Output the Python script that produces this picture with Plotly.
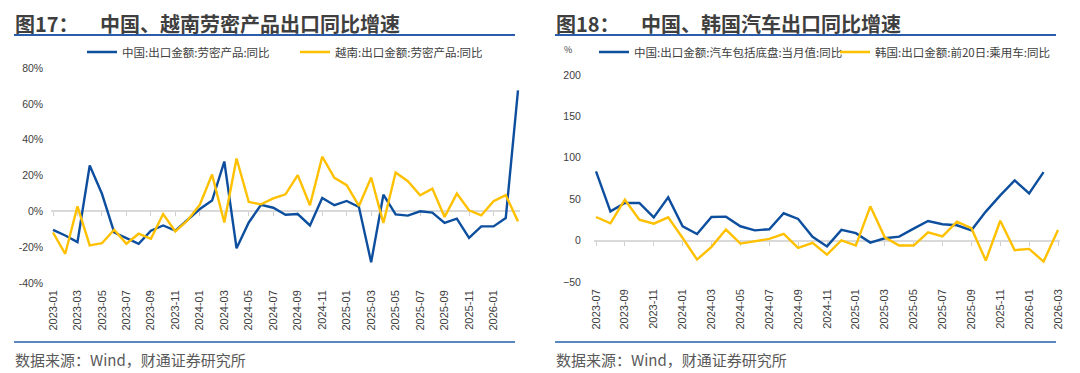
import plotly.graph_objects as go

# page body has an 8px margin, so the figure is sized to fit the window
OFF = 8
W, H = 1080 - OFF, 373 - OFF

# ---------------- data ----------------
months_a = [f"{y}-{m:02d}" for y in (2023, 2024, 2025) for m in range(1, 13)] + ["2026-01", "2026-02", "2026-03"]
china_labor = [-10.3, -13.5, -17.2, 25.6, 9.8, -11.8, -15.0, -18.1, -10.8, -7.9, -10.8, -4.7,
               1.3, 6.0, 27.8, -20.6, -6.2, 3.6, 2.0, -1.9, -1.5, -7.9, 7.5, 3.4,
               5.8, 2.4, -28.4, 9.3, -1.7, -2.4, 0.0, -0.7, -6.5, -4.1, -14.8, -8.4,
               -8.4, -3.7, 67.5]
vietnam_labor = [-11.8, -23.7, 2.8, -19.0, -17.8, -10.3, -18.1, -12.5, -15.3, -1.5, -11.2, -5.0,
                 3.7, 20.6, -6.2, 29.5, 5.2, 3.9, 7.2, 9.5, 20.2, 3.4, 30.5, 18.7,
                 14.6, 3.0, 18.9, -6.5, 21.7, 16.8, 9.0, 12.7, -3.2, 9.9, 0.6, -2.2,
                 5.6, 9.0, -5.6]
ticks_a = months_a[0:37:2]

months_b = [f"2023-{m:02d}" for m in range(7, 13)] + [f"{y}-{m:02d}" for y in (2024, 2025) for m in range(1, 13)] + ["2026-01", "2026-02", "2026-03"]
china_auto = [83.5, 35.3, 45.4, 45.4, 28.1, 52.2, 17.3, 8.0, 28.5, 28.9, 17.3, 12.4,
              13.7, 33.0, 26.1, 4.5, -7.0, 13.0, 9.0, -2.4, 2.8, 4.8, 14.5, 23.7,
              19.7, 18.5, 12.4, 35.0, 54.6, 72.7, 57.0, 82.7]
korea_car = [28.5, 20.9, 49.4, 25.3, 20.5, 28.1, 3.2, -22.9, -7.6, 13.3, -3.6, -0.8,
             2.0, 8.0, -8.8, -2.8, -16.9, 0.4, -6.0, 41.4, 4.0, -6.0, -6.0, 10.0,
             5.2, 22.9, 14.9, -24.0, 24.0, -11.6, -10.0, -25.3, 12.9]
ticks_b = months_b[0:33:2]

yticks_a = [-40, -20, 0, 20, 40, 60, 80]
yticks_b = [-50, 0, 50, 100, 150, 200]

BLUE = "#0d4f9e"
GOLD = "#ffc000"
TXT = "#404040"
CJK = "Noto Sans CJK SC"
LAT = "Liberation Sans, Arial"

def px(x):
    return (x - OFF) / W

def py(y):
    return 1 - (y - OFF) / H

fig = go.Figure()

xa = list(range(len(months_a)))
xb = list(range(len(months_b)))

fig.add_trace(go.Scatter(x=xa, y=china_labor, mode="lines", name="中国:出口金额:劳密产品:同比",
                         line=dict(color=BLUE, width=2.4), xaxis="x", yaxis="y", legend="legend"))
fig.add_trace(go.Scatter(x=xa, y=vietnam_labor, mode="lines", name="越南:出口金额:劳密产品:同比",
                         line=dict(color=GOLD, width=2.4), xaxis="x", yaxis="y", legend="legend2"))
fig.add_trace(go.Scatter(x=xb[:len(china_auto)], y=china_auto, mode="lines", name="中国:出口金额:汽车包括底盘:当月值:同比",
                         line=dict(color=BLUE, width=2.4), xaxis="x2", yaxis="y2", legend="legend3"))
fig.add_trace(go.Scatter(x=xb, y=korea_car, mode="lines", name="韩国:出口金额:前20日:乘用车:同比",
                         line=dict(color=GOLD, width=2.4), xaxis="x2", yaxis="y2", legend="legend4"))

# pixel geometry (window pixels)
A_x0, A_x1 = 53, 518
A_y0, A_y1 = 283, 68      # pixel of ymin, ymax
B_x0, B_x1 = 596, 1058
B_y0, B_y1 = 282, 75
pad = 0.15

def xdom(x0, x1, n):
    ppu = (x1 - x0) / (n - 1)
    return [px(x0 - pad * ppu), px(x1 + pad * ppu)]

dom_xa = xdom(A_x0, A_x1, len(months_a))
dom_xb = xdom(B_x0, B_x1, len(months_b))
rng_xa = [-pad, len(months_a) - 1 + pad]
rng_xb = [-pad, len(months_b) - 1 + pad]
dom_ya = [py(A_y0), py(A_y1)]
dom_yb = [py(B_y0), py(B_y1)]
rng_ya = [-40, 80]
rng_yb = [-50, 200]

def zero_pos(dom, rng):
    return dom[0] + (0 - rng[0]) / (rng[1] - rng[0]) * (dom[1] - dom[0])

tickfont = dict(family=LAT, size=11, color=TXT)
yfont = dict(family=LAT, size=10.5, color=TXT)

common_x = dict(showgrid=False, zeroline=False, showline=False, ticks="", tickangle=-90,
                tickfont=tickfont, ticklabelstandoff=4, automargin=False)
common_zero = dict(showgrid=False, zeroline=False, showline=True, linecolor="#d9d9d9", linewidth=2,
                   ticks="outside", ticklen=4, tickcolor="#d0d0d0", tickwidth=1,
                   showticklabels=False, anchor="free", automargin=False)

def leg(x):
    return dict(orientation="h", x=px(x), y=py(52), xanchor="left", yanchor="middle",
                font=dict(family=CJK, size=11.5, color=TXT), bgcolor="rgba(0,0,0,0)",
                itemclick=False, itemdoubleclick=False, borderwidth=0)

fig.update_layout(
    width=W, height=H, margin=dict(l=0, r=0, t=0, b=0, autoexpand=False),
    paper_bgcolor="white", plot_bgcolor="white", showlegend=True,
    xaxis=dict(domain=dom_xa, range=rng_xa, tickvals=[months_a.index(t) for t in ticks_a], ticktext=ticks_a,
               anchor="y", **common_x),
    yaxis=dict(domain=dom_ya, range=rng_ya, tickvals=yticks_a, ticktext=[f"{v}%" for v in yticks_a],
               showgrid=False, zeroline=False, showline=False, ticks="", tickfont=yfont, anchor="x",
               ticklabelstandoff=7, automargin=False),
    xaxis2=dict(domain=dom_xb, range=rng_xb, tickvals=[months_b.index(t) for t in ticks_b], ticktext=ticks_b,
                anchor="y2", **common_x),
    yaxis2=dict(domain=dom_yb, range=rng_yb, tickvals=yticks_b, showgrid=False, zeroline=False,
                showline=False, ticks="", tickfont=yfont, anchor="x2", ticklabelstandoff=12, automargin=False),
    xaxis3=dict(overlaying="x", range=rng_xa, domain=dom_xa, position=zero_pos(dom_ya, rng_ya),
                tickvals=[months_a.index(t) for t in ticks_a], layer="below traces", **common_zero),
    xaxis4=dict(overlaying="x2", range=rng_xb, domain=dom_xb, position=zero_pos(dom_yb, rng_yb),
                tickvals=[months_b.index(t) for t in ticks_b], layer="below traces", **common_zero),
    legend=leg(82), legend2=leg(295), legend3=leg(594), legend4=leg(835),
)

fig.add_trace(go.Scatter(x=[0], y=[0], xaxis="x3", yaxis="y", mode="markers",
                         marker=dict(opacity=0), showlegend=False, hoverinfo="skip"))
fig.add_trace(go.Scatter(x=[0], y=[0], xaxis="x4", yaxis="y2", mode="markers",
                         marker=dict(opacity=0), showlegend=False, hoverinfo="skip"))

ann = []
title_font = dict(family=CJK, size=20, color="#3f3f3f", weight="bold")
for x, t in ((14, "图17："), (99, "中国、越南劳密产品出口同比增速"),
             (555, "图18："), (640, "中国、韩国汽车出口同比增速")):
    ann.append(dict(x=px(x), y=1.0, text=t, showarrow=False, xanchor="left", yanchor="top",
                    xref="paper", yref="paper", font=title_font, borderpad=0))
src_font = dict(family=CJK, size=15, color="#595959")
ann.append(dict(x=px(13), y=py(359), text="数据来源：Wind，财通证券研究所", showarrow=False, xanchor="left",
                yanchor="middle", xref="paper", yref="paper", font=src_font))
ann.append(dict(x=px(554), y=py(359), text="数据来源：Wind，财通证券研究所", showarrow=False, xanchor="left",
                yanchor="middle", xref="paper", yref="paper", font=src_font))
ann.append(dict(x=px(568), y=py(50), text="%", showarrow=False, xanchor="center", yanchor="middle",
                xref="paper", yref="paper", font=dict(family=CJK, size=9, color=TXT)))
fig.update_layout(annotations=ann)

shapes = []
for (x0, x1) in ((14, 515), (555, 1056)):
    shapes.append(dict(type="line", xref="paper", yref="paper", x0=px(x0), x1=px(x1), y0=py(35), y1=py(35),
                       line=dict(color="#2a5caa", width=2)))
    shapes.append(dict(type="line", xref="paper", yref="paper", x0=px(x0), x1=px(x1), y0=py(342), y1=py(342),
                       line=dict(color="#5b87c0", width=2)))
fig.update_layout(shapes=shapes)

fig.write_html("out.html")
